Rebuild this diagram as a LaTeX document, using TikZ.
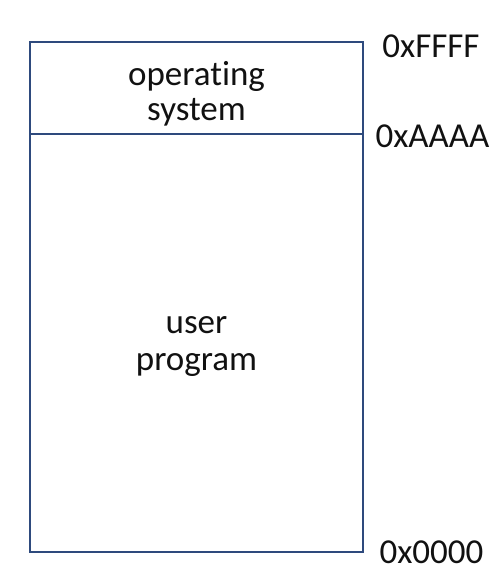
\documentclass[tikz,border=0pt]{standalone}
\usepackage{fontspec}
\setmainfont[Ligatures=NoCommon]{Carlito}
\definecolor{boxline}{HTML}{2E4A7D}
\definecolor{txt}{HTML}{111111}
\begin{document}
\begin{tikzpicture}[x=1pt,y=-1pt,
  region/.style={draw=boxline, line width=1.6pt, minimum width=333pt, inner sep=0pt},
  lbl/.style={anchor=base, text=txt, inner sep=0pt, font=\fontsize{35}{39}\selectfont},
  addr/.style={anchor=base, text=txt, inner sep=0pt, font=\fontsize{35}{39}\selectfont}]
\useasboundingbox (0,0) rectangle (492,576);
\node[region, minimum height=92pt] (os) at (196.5,88) {};
\node[region, minimum height=418pt] (user) at (196.5,343) {};
\node[lbl] (t1) at (196.5,85) {operating};
\node[lbl] (t2) at (196.5,120.5) {system};
\node[lbl] (t3) at (196.5,333) {user};
\node[lbl] (t4) at (196.5,370) {program};
\node[addr] (aF) at (431,57) {0xFFFF};
\node[addr] (aA) at (432.5,147) {0xAAAA};
\node[addr] (a0) at (431.5,563) {0x0000};
\end{tikzpicture}
\end{document}
